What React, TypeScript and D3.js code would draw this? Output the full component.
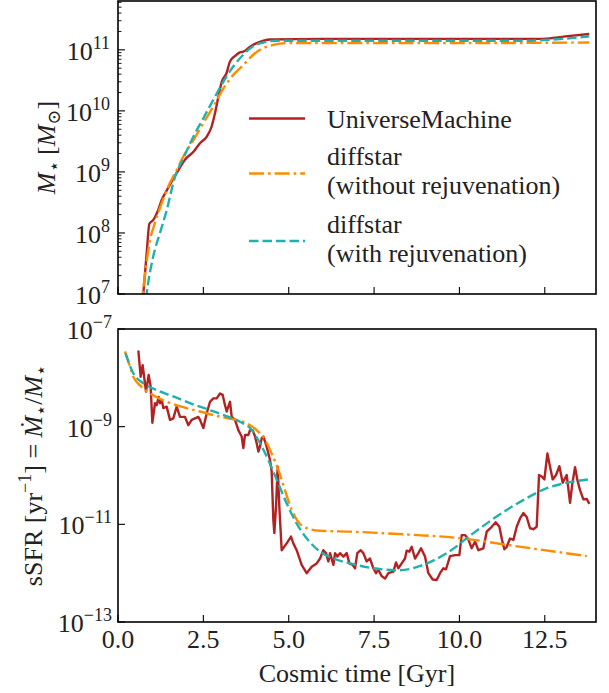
import React from "react";
import * as d3 from "d3";

// ---------- data (t in Gyr, log10 values) ----------
const timeTicks = [0, 2.5, 5, 7.5, 10, 12.5];
const timeTickLabels = ["0.0", "2.5", "5.0", "7.5", "10.0", "12.5"];
const massTickExps = [7, 8, 9, 10, 11];
const ssfrTickExps = [-13, -11, -9, -7];

const umMass: [number, number][] = [
  [0.68, 6.7], [0.74, 7.0], [0.84, 7.67], [0.92, 8.15], [1.03, 8.21], [1.18, 8.38], [1.28, 8.54],
  [1.43, 8.7], [1.57, 8.84], [1.77, 9.03], [1.96, 9.2], [2.21, 9.33], [2.4, 9.47], [2.6, 9.58],
  [2.74, 9.74], [2.84, 9.96], [2.94, 10.23], [3.04, 10.48], [3.18, 10.62], [3.28, 10.81],
  [3.43, 10.9], [3.57, 10.96], [3.67, 10.97], [3.87, 11.05], [4.06, 11.11], [4.26, 11.15],
  [4.45, 11.17], [6, 11.18], [8, 11.18], [10, 11.18], [12.45, 11.18], [13.1, 11.22], [13.8, 11.26],
];
const noRejMass: [number, number][] = [
  [0.66, 6.7], [0.72, 7.0], [0.82, 7.45], [0.94, 7.89], [1.08, 8.16], [1.28, 8.49], [1.47, 8.76],
  [1.72, 9.03], [1.91, 9.25], [2.21, 9.52], [2.5, 9.8], [2.79, 10.07], [3.09, 10.37], [3.38, 10.59],
  [3.67, 10.75], [3.96, 10.92], [4.26, 11.03], [4.55, 11.08], [4.94, 11.11], [7, 11.11],
  [10, 11.11], [13.8, 11.12],
];
const rejMass: [number, number][] = [
  [0.78, 6.7], [0.84, 7.0], [1.03, 7.61], [1.23, 8.0], [1.43, 8.38], [1.67, 8.92], [1.91, 9.22],
  [2.21, 9.58], [2.5, 9.88], [2.79, 10.18], [3.09, 10.48], [3.38, 10.73], [3.67, 10.92],
  [3.96, 11.06], [4.26, 11.12], [4.65, 11.15], [8, 11.15], [12, 11.15], [13.0, 11.18], [13.8, 11.22],
];

const umSsfr: [number, number][] = [
  [0.596, -7.44], [0.664, -7.98], [0.722, -7.74], [0.771, -8.01], [0.82, -8.28], [0.898, -7.94],
  [0.957, -8.18], [1.006, -8.92], [1.084, -8.52], [1.133, -8.56], [1.191, -8.39], [1.23, -8.52],
  [1.279, -8.45], [1.328, -8.62], [1.425, -8.59], [1.523, -8.86], [1.621, -8.83], [1.718, -8.59],
  [1.816, -8.8], [1.962, -8.8], [2.06, -8.97], [2.158, -8.86], [2.255, -8.83], [2.353, -8.8],
  [2.402, -8.86], [2.499, -9.03], [2.597, -8.73], [2.695, -8.49], [2.792, -8.42], [2.89, -8.42],
  [2.988, -8.32], [3.066, -8.35], [3.134, -8.56], [3.183, -8.69], [3.232, -8.59], [3.281, -8.49],
  [3.33, -8.8], [3.427, -8.86], [3.525, -9.07], [3.622, -9.2], [3.671, -9.44], [3.72, -9.17],
  [3.818, -9.17], [3.866, -9.07], [3.944, -9.07], [4.013, -9.2], [4.062, -9.34], [4.111, -9.51],
  [4.159, -9.41], [4.208, -9.24], [4.257, -9.2], [4.354, -9.41], [4.452, -9.68], [4.501, -9.92],
  [4.55, -10.91], [4.579, -11.18], [4.628, -10.64], [4.677, -9.82], [4.725, -10.64], [4.794, -11.53],
  [4.94, -11.39], [5.067, -11.25], [5.135, -11.39], [5.233, -11.53], [5.379, -11.83], [5.526, -12.0],
  [5.673, -11.87], [5.819, -11.8], [5.917, -11.7], [6.014, -11.53], [6.093, -11.59], [6.161, -11.76],
  [6.21, -11.59], [6.308, -11.83], [6.357, -11.59], [6.425, -11.66], [6.503, -11.59], [6.601, -11.66],
  [6.698, -11.59], [6.776, -11.8], [6.874, -11.83], [6.942, -11.9], [7.01, -11.59], [7.108, -11.53],
  [7.186, -11.59], [7.284, -11.76], [7.381, -11.7], [7.479, -11.9], [7.557, -12.0], [7.625, -11.93],
  [7.723, -12.06], [7.821, -12.11], [7.918, -12.0], [8.065, -11.97], [8.143, -11.78], [8.211, -11.9],
  [8.309, -11.8], [8.406, -11.7], [8.455, -11.54], [8.533, -11.56], [8.602, -11.46], [8.699, -11.7],
  [8.797, -11.59], [8.875, -11.49], [8.992, -11.66], [9.09, -12.0], [9.217, -12.13], [9.334, -12.14],
  [9.432, -12.0], [9.529, -11.9], [9.607, -11.92], [9.725, -11.65], [9.871, -11.63], [9.998, -11.63],
  [10.066, -11.22], [10.164, -11.22], [10.262, -11.31], [10.359, -11.49], [10.457, -11.35],
  [10.555, -11.53], [10.701, -11.49], [10.799, -11.15], [10.945, -11.05], [11.062, -10.96],
  [11.17, -11.05], [11.248, -11.32], [11.316, -11.51], [11.385, -11.46], [11.482, -11.29],
  [11.58, -11.32], [11.677, -11.05], [11.775, -10.88], [11.873, -10.77], [11.97, -10.85],
  [12.068, -11.08], [12.166, -11.1], [12.263, -11.05], [12.332, -9.99], [12.41, -10.02],
  [12.488, -10.08], [12.576, -9.55], [12.654, -9.82], [12.732, -10.08], [12.83, -9.99],
  [12.927, -9.81], [13.025, -10.15], [13.142, -9.99], [13.24, -10.56], [13.308, -10.16],
  [13.386, -9.83], [13.454, -10.09], [13.532, -10.3], [13.63, -10.49], [13.728, -10.48], [13.806, -10.58],
];
const noRejSsfr: [number, number][] = [
  [0.205, -7.46], [0.35, -7.77], [0.45, -7.98], [0.64, -8.15], [0.94, -8.32], [1.43, -8.49],
  [1.91, -8.6], [2.4, -8.69], [2.89, -8.78], [3.38, -8.85], [3.77, -8.93], [4.06, -9.07],
  [4.31, -9.27], [4.5, -9.55], [4.7, -9.89], [4.89, -10.3], [5.09, -10.71], [5.28, -10.95],
  [5.53, -11.08], [5.92, -11.13], [6.8, -11.15], [8.5, -11.21], [10.11, -11.29], [11.39, -11.42],
  [13.73, -11.65],
];
const rejSsfr: [number, number][] = [
  [0.22, -7.5], [0.45, -7.91], [0.74, -8.11], [1.13, -8.25], [1.62, -8.38], [2.11, -8.52],
  [2.6, -8.64], [3.08, -8.76], [3.57, -8.9], [3.87, -9.03], [4.16, -9.34], [4.4, -9.68],
  [4.65, -10.09], [4.94, -10.57], [5.23, -10.98], [5.53, -11.29], [5.92, -11.56], [6.31, -11.7],
  [6.8, -11.8], [7.48, -11.9], [8.26, -11.94], [8.94, -11.83], [9.63, -11.59], [10.41, -11.18],
  [11.09, -10.84], [11.78, -10.54], [12.56, -10.26], [13.14, -10.15], [13.78, -10.08],
];

const legendLabels = [
  ["UniverseMachine"],
  ["diffstar", "(without rejuvenation)"],
  ["diffstar", "(with rejuvenation)"],
];

// ---------- styles ----------
const RED = "#b22222";
const ORANGE = "#ff8c00";
const TEAL = "#20b2aa";
const FONT = "Liberation Serif, Times New Roman, DejaVu Serif, Noto Serif, serif";
const FS = 26;
const SUP = 18;
const LW = 2.4;
const DASH = "9.5,4";
const DASHDOT = "15,4,2.6,4";

const W = 609;
const H = 693;
const L = 118;
const R = 596;
const topPanel = { t: 1, b: 294 };
const botPanel = { t: 329, b: 622 };

export default function App() {
  const x = d3.scaleLinear().domain([0, 14]).range([L, R]);
  const yM = d3.scaleLog().domain([1e7, Math.pow(10, 11.8)]).range([topPanel.b, topPanel.t]);
  const yS = d3.scaleLog().domain([1e-13, 1e-7]).range([botPanel.b, botPanel.t]);

  const mkLine = (y: d3.ScaleLogarithmic<number, number>, smooth: boolean) => {
    const l = d3
      .line<[number, number]>()
      .x((d) => x(d[0]))
      .y((d) => y(Math.pow(10, d[1])));
    return smooth ? l.curve(d3.curveMonotoneX) : l;
  };
  const lineMSmooth = mkLine(yM, true);
  const lineSSmooth = mkLine(yS, true);
  const lineSRaw = mkLine(yS, false);

  const minorMass: number[] = [];
  for (let e = 6; e <= 11; e++) {
    for (let m = 2; m <= 9; m++) {
      const v = m * Math.pow(10, e);
      if (v > 1e7 && v < Math.pow(10, 11.8)) minorMass.push(v);
    }
  }

  const legendRows = [
    { color: RED, dash: undefined, ly: 118.5, baselines: [128] },
    { color: ORANGE, dash: DASHDOT, ly: 173.5, baselines: [165, 194] },
    { color: TEAL, dash: DASH, ly: 241, baselines: [233, 262] },
  ];

  const txt = { fontFamily: FONT, fill: "#222" } as React.CSSProperties;

  return (
    <svg width={W} height={H} style={{ display: "block", position: "absolute", left: 0, top: 0, fontFamily: FONT }}>
      <defs>
        <clipPath id="clipTop">
          <rect x={L} y={topPanel.t} width={R - L} height={topPanel.b - topPanel.t} />
        </clipPath>
        <clipPath id="clipBot">
          <rect x={L} y={botPanel.t} width={R - L} height={botPanel.b - botPanel.t} />
        </clipPath>
      </defs>
      <rect x={0} y={0} width={W} height={H} fill="#fff" />

      {/* ---------- top panel ---------- */}
      <g clipPath="url(#clipTop)" fill="none" strokeWidth={LW} strokeLinejoin="round">
        <path d={lineMSmooth(umMass) || ""} stroke={RED} />
        <path d={lineMSmooth(noRejMass) || ""} stroke={ORANGE} strokeDasharray={DASHDOT} />
        <path d={lineMSmooth(rejMass) || ""} stroke={TEAL} strokeDasharray={DASH} />
      </g>
      <g stroke="#000" strokeWidth={1.1}>
        {timeTicks.map((t) => (
          <line key={"tt" + t} x1={x(t)} x2={x(t)} y1={topPanel.b} y2={topPanel.b - 7} />
        ))}
        {massTickExps.map((e) => (
          <line key={"mt" + e} x1={L} x2={L + 7} y1={yM(Math.pow(10, e))} y2={yM(Math.pow(10, e))} />
        ))}
        {minorMass.map((v) => (
          <line key={"mm" + v} x1={L} x2={L + 3.5} y1={yM(v)} y2={yM(v)} strokeWidth={0.9} />
        ))}
      </g>
      {massTickExps.map((e) => (
        <text key={"ml" + e} x={110} y={yM(Math.pow(10, e)) + 10} textAnchor="end" fontSize={FS} style={txt}>
          10
          <tspan dy={-11} fontSize={SUP}>{String(e)}</tspan>
        </text>
      ))}
      <rect x={L} y={topPanel.t} width={R - L} height={topPanel.b - topPanel.t} fill="none"
        stroke="#000" strokeWidth={1.6} />
      <text transform={`translate(55,${(topPanel.t + topPanel.b) / 2}) rotate(-90)`} textAnchor="middle"
        fontSize={FS} style={txt}>
        <tspan fontStyle="italic">M</tspan>
        <tspan dy={5} fontSize={SUP}>⋆</tspan>
        <tspan dy={-5}> [</tspan>
        <tspan fontStyle="italic">M</tspan>
        <tspan dy={5} fontSize={SUP}>⊙</tspan>
        <tspan dy={-5}>]</tspan>
      </text>

      {/* legend */}
      {legendRows.map((row, i) => (
        <g key={"lg" + i}>
          <line x1={249} x2={305} y1={row.ly} y2={row.ly} stroke={row.color} strokeWidth={LW}
            strokeDasharray={row.dash} />
          {legendLabels[i].map((s, j) => (
            <text key={j} x={327} y={row.baselines[j]} fontSize={FS} style={txt}>{s}</text>
          ))}
        </g>
      ))}

      {/* ---------- bottom panel ---------- */}
      <g clipPath="url(#clipBot)" fill="none" strokeWidth={LW} strokeLinejoin="round">
        <path d={lineSRaw(umSsfr) || ""} stroke={RED} />
        <path d={lineSSmooth(noRejSsfr) || ""} stroke={ORANGE} strokeDasharray={DASHDOT} />
        <path d={lineSSmooth(rejSsfr) || ""} stroke={TEAL} strokeDasharray={DASH} />
      </g>
      <g stroke="#000" strokeWidth={1.1}>
        {timeTicks.map((t) => (
          <line key={"bt" + t} x1={x(t)} x2={x(t)} y1={botPanel.b} y2={botPanel.b - 7} />
        ))}
        {ssfrTickExps.map((e) => (
          <line key={"st" + e} x1={L} x2={L + 7} y1={yS(Math.pow(10, e))} y2={yS(Math.pow(10, e))} />
        ))}
      </g>
      {ssfrTickExps.map((e) => (
        <text key={"sl" + e} x={112} y={yS(Math.pow(10, e)) + 10} textAnchor="end" fontSize={FS} style={txt}>
          10
          <tspan dy={-11} fontSize={SUP}>{"−" + String(Math.abs(e))}</tspan>
        </text>
      ))}
      {timeTicks.map((t, i) => (
        <text key={"xl" + t} x={x(t)} y={648} textAnchor="middle" fontSize={FS} style={txt}>
          {timeTickLabels[i]}
        </text>
      ))}
      <rect x={L} y={botPanel.t} width={R - L} height={botPanel.b - botPanel.t} fill="none"
        stroke="#000" strokeWidth={1.6} />
      <text x={(L + R) / 2} y={682} textAnchor="middle" fontSize={FS} style={txt}>Cosmic time [Gyr]</text>
      <text transform={`translate(42,${(botPanel.t + botPanel.b) / 2}) rotate(-90)`} textAnchor="middle"
        fontSize={FS} style={txt}>
        sSFR [yr
        <tspan dy={-11} fontSize={SUP}>−1</tspan>
        <tspan dy={11}>] = </tspan>
        <tspan fontStyle="italic">Ṁ</tspan>
        <tspan dy={5} fontSize={SUP}>⋆</tspan>
        <tspan dy={-5}>/</tspan>
        <tspan fontStyle="italic">M</tspan>
        <tspan dy={5} fontSize={SUP}>⋆</tspan>
      </text>
    </svg>
  );
}
